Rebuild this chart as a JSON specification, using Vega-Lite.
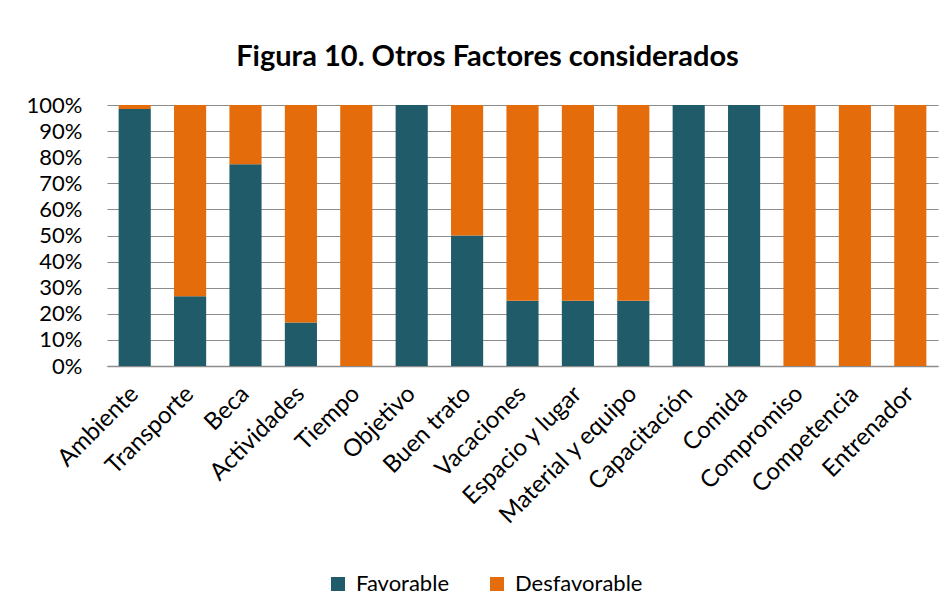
{
  "$schema": "https://vega.github.io/schema/vega-lite/v6.json",
  "autosize": {"type": "none"},
  "width": 831,
  "height": 261,
  "padding": {"left": 107, "top": 105, "right": 14, "bottom": 250},
  "background": "white",
  "title": {
    "text": "Figura 10. Otros Factores considerados",
    "font": "Lato",
    "fontSize": 29,
    "fontWeight": "bold",
    "color": "#000000",
    "anchor": "middle",
    "dx": -35,
    "offset": 22
  },
  "data": {
    "values": [
      {"factor": "Ambiente", "tipo": "Favorable", "valor": 98.5},
      {"factor": "Ambiente", "tipo": "Desfavorable", "valor": 1.5},
      {"factor": "Transporte", "tipo": "Favorable", "valor": 26.7},
      {"factor": "Transporte", "tipo": "Desfavorable", "valor": 73.3},
      {"factor": "Beca", "tipo": "Favorable", "valor": 77.3},
      {"factor": "Beca", "tipo": "Desfavorable", "valor": 22.7},
      {"factor": "Actividades", "tipo": "Favorable", "valor": 16.7},
      {"factor": "Actividades", "tipo": "Desfavorable", "valor": 83.3},
      {"factor": "Tiempo", "tipo": "Favorable", "valor": 0},
      {"factor": "Tiempo", "tipo": "Desfavorable", "valor": 100},
      {"factor": "Objetivo", "tipo": "Favorable", "valor": 100},
      {"factor": "Objetivo", "tipo": "Desfavorable", "valor": 0},
      {"factor": "Buen trato", "tipo": "Favorable", "valor": 50},
      {"factor": "Buen trato", "tipo": "Desfavorable", "valor": 50},
      {"factor": "Vacaciones", "tipo": "Favorable", "valor": 25},
      {"factor": "Vacaciones", "tipo": "Desfavorable", "valor": 75},
      {"factor": "Espacio y lugar", "tipo": "Favorable", "valor": 25},
      {"factor": "Espacio y lugar", "tipo": "Desfavorable", "valor": 75},
      {"factor": "Material y equipo", "tipo": "Favorable", "valor": 25},
      {"factor": "Material y equipo", "tipo": "Desfavorable", "valor": 75},
      {"factor": "Capacitación", "tipo": "Favorable", "valor": 100},
      {"factor": "Capacitación", "tipo": "Desfavorable", "valor": 0},
      {"factor": "Comida", "tipo": "Favorable", "valor": 100},
      {"factor": "Comida", "tipo": "Desfavorable", "valor": 0},
      {"factor": "Compromiso", "tipo": "Favorable", "valor": 0},
      {"factor": "Compromiso", "tipo": "Desfavorable", "valor": 100},
      {"factor": "Competencia", "tipo": "Favorable", "valor": 0},
      {"factor": "Competencia", "tipo": "Desfavorable", "valor": 100},
      {"factor": "Entrenador", "tipo": "Favorable", "valor": 0},
      {"factor": "Entrenador", "tipo": "Desfavorable", "valor": 100}
    ]
  },
  "mark": {"type": "bar"},
  "encoding": {
    "x": {
      "field": "factor",
      "type": "nominal",
      "sort": null,
      "scale": {"paddingInner": 0.42, "paddingOuter": 0.21},
      "axis": {
        "title": null,
        "labelAngle": -45,
        "labelAlign": "right",
        "labelBaseline": "middle",
        "labelFont": "Lato",
        "labelFontSize": 24,
        "labelColor": "#000000",
        "labelPadding": 24,
        "labelLimit": 400,
        "labelOverlap": false,
        "ticks": false,
        "domainColor": "#8C8C8C",
        "domainWidth": 1.5,
        "grid": false
      }
    },
    "y": {
      "field": "valor",
      "type": "quantitative",
      "stack": "normalize",
      "scale": {"domain": [0, 1]},
      "axis": {
        "title": null,
        "format": ".0%",
        "values": [0, 0.1, 0.2, 0.3, 0.4, 0.5, 0.6, 0.7, 0.8, 0.9, 1],
        "labelFont": "Lato",
        "labelFontSize": 22,
        "labelColor": "#000000",
        "labelPadding": 25,
        "labelOverlap": false,
        "ticks": false,
        "domain": false,
        "grid": true,
        "gridColor": "#8C8C8C",
        "gridWidth": 1.2
      }
    },
    "color": {
      "field": "tipo",
      "type": "nominal",
      "sort": ["Favorable", "Desfavorable"],
      "scale": {"domain": ["Favorable", "Desfavorable"], "range": ["#1F5B69", "#E46C0A"]},
      "legend": {
        "title": null,
        "orient": "none",
        "direction": "horizontal",
        "legendX": 220,
        "legendY": 468,
        "symbolType": "square",
        "symbolSize": 196,
        "symbolStrokeWidth": 0,
        "labelFont": "Lato",
        "labelFontSize": 22,
        "labelColor": "#000000",
        "labelOffset": 7,
        "columnPadding": 37
      }
    },
    "order": {"field": "tipo", "sort": "descending"}
  },
  "config": {"view": {"stroke": null}}
}
